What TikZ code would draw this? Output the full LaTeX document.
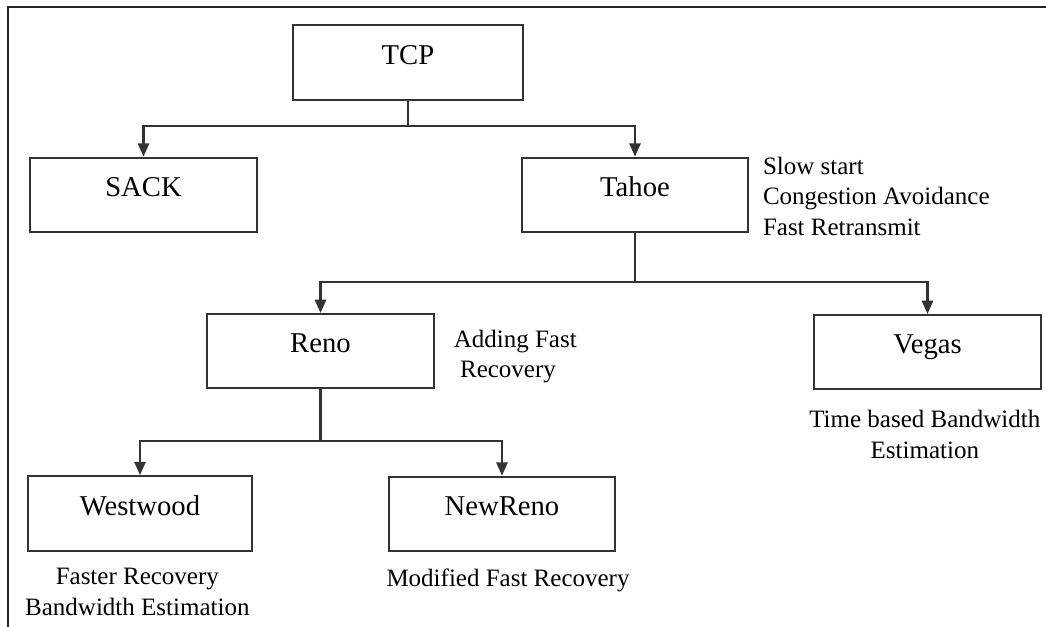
\documentclass[tikz,border=0pt]{standalone}
\usepackage{fontspec}
\setmainfont{Liberation Serif}
\usetikzlibrary{positioning,arrows.meta}

\begin{document}
\begin{tikzpicture}[x=0.75pt,y=-0.75pt,>={Triangle[length=10pt,width=8.5pt]},
   proto/.style={draw=black!80,line width=1.6pt,minimum width=170pt,minimum height=56pt,
     font=\fontsize{21.5}{26}\selectfont,text height=0.7em,text depth=0.45em},
   note/.style={inner sep=0pt,font=\fontsize{18.75}{23}\selectfont},
   link/.style={->,draw=black!80,line width=1.6pt}]
  \useasboundingbox (0,0) rectangle (1046,627);
  \draw[line width=1.5pt,black!85] (8,627) -- (8,7) -- (1046,7);

  \node[proto,minimum width=172pt] (tcp) at (408,62.5) {TCP};
  \node[proto] (sack)  at (143.5,195) {SACK};
  \node[proto] (tahoe) at (635,195) {Tahoe};
  \node[proto,minimum height=55.5pt] (reno)  at (320.5,351) {Reno};
  \node[proto,minimum height=55.5pt] (vegas) at (927.5,352) {Vegas};
  \node[proto,minimum width=168pt] (westwood) at (140,513.5) {Westwood};
  \node[proto] (newreno) at (502,514) {NewReno};

  % notes beside the boxes
  \node[note,align=left,below right=0pt and 10pt of tahoe.north east]
    (tahoenote) {Slow start\\Congestion Avoidance\\Fast Retransmit};
  \node[note,align=left,below right=12.5pt and 14pt of reno.north east]
    (renonote) {Adding Fast\\\ Recovery};
  \node[note,align=center,below=15pt of vegas.south,xshift=-2pt]
    (vegasnote) {Time based Bandwidth\\Estimation};
  \node[note,align=center,below=12pt of westwood.south,xshift=-2pt]
    (westnote) {Faster Recovery\\Bandwidth Estimation};
  \node[note,below=12pt of newreno.south,xshift=4.5pt]
    (newrenonote) {Modified Fast Recovery};

  % tree links
  \draw[link,-] (tcp.south) -- ++(0,25) coordinate (j1);
  \draw[link] (j1) -| (sack.north);
  \draw[link] (j1) -| (tahoe.north);
  \draw[link,-] (tahoe.south) -- ++(0,49) coordinate (j2);
  \draw[link] (j2) -| (reno.north);
  \draw[link] (j2) -| (vegas.north);
  \draw[link,-] (reno.south) -- ++(0,52) coordinate (j3);
  \draw[link] (j3) -| (westwood.north);
  \draw[link] (j3) -| (newreno.north);
\end{tikzpicture}
\end{document}
